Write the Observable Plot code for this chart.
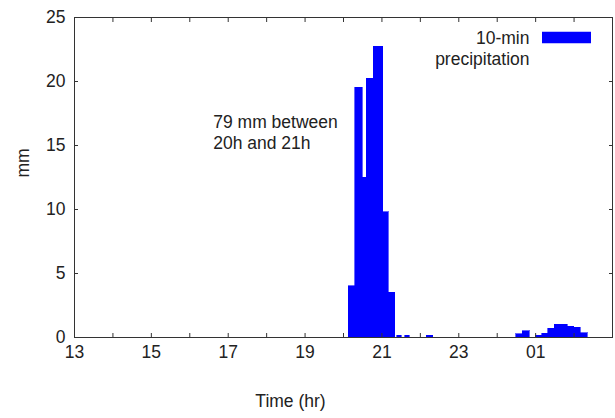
<!DOCTYPE html>
<html>
<head>
<meta charset="utf-8">
<script src="https://cdn.jsdelivr.net/npm/d3@7"></script>
<script src="https://cdn.jsdelivr.net/npm/@observablehq/plot@0.6"></script>
<style>
  html, body { margin: 0; padding: 0; background: #fff; }
</style>
</head>
<body>
<div id="chart"></div>
<script>
// 10-minute precipitation bins (time in hours; 25 = 01h next day)
const barStart = [20.138, 20.312, 20.502, 20.611, 20.788, 21.028, 21.179, 21.40, 21.61, 22.16,
                  24.50, 24.67, 25.00, 25.17, 25.33, 25.50, 25.67, 25.83, 26.00, 26.17];
const barEnd   = [20.312, 20.502, 20.611, 20.788, 21.028, 21.179, 21.353, 21.51, 21.72, 22.33,
                  24.67, 24.85, 25.17, 25.33, 25.50, 25.67, 25.83, 26.00, 26.17, 26.36];
const precip   = [4.0, 19.5, 12.5, 20.2, 22.7, 9.8, 3.5, 0.15, 0.15, 0.15,
                  0.25, 0.5, 0.15, 0.3, 0.7, 1.0, 1.0, 0.85, 0.75, 0.35];

const hourTicks  = [13, 14, 15, 16, 17, 18, 19, 20, 21, 22, 23, 24, 25, 26, 27];
const hourLabels = [13, 15, 17, 19, 21, 23, 25];
const mmTicks    = [0, 5, 10, 15, 20, 25];

const xDomain = [13, 27];
const yDomain = [0, 25];

const annotation = "79 mm between\n20h and 21h";
const annotX = 16.61, annotY = 17.6;
const legendText = "10-min\nprecipitation";
const xTitle = "Time (hr)";
const yTitle = "mm";

const bars = barStart.map((s, i) => ({start: s, end: barEnd[i], value: precip[i]}));
const fmtHour = h => String(h % 24).padStart(2, "0");

const BLUE = "#0000ff";
const INK = "#333";

const swatch = {
  draw(ctx) { ctx.rect(-24.5, -5.8, 49, 11.6); }
};

const chart = Plot.plot({
  width: 615,
  height: 418,
  marginLeft: 74,
  marginRight: 3,
  marginTop: 17,
  marginBottom: 81,
  x: {domain: xDomain, label: null},
  y: {domain: yDomain, label: null},
  style: {
    fontFamily: "'Liberation Sans', Arial, sans-serif",
    fontSize: "17.5px",
    color: "#222",
    background: "#fff",
    overflow: "visible"
  },
  marks: [
    Plot.rectY(bars, {x1: "start", x2: "end", y: "value", fill: BLUE, stroke: BLUE, strokeWidth: 0.6, inset: 0, shapeRendering: "crispEdges"}),
    // tick marks (inward) on all four sides
    Plot.axisX({anchor: "bottom", ticks: hourTicks, tickSize: -4, tickFormat: () => "", label: null, stroke: INK}),
    Plot.axisX({anchor: "top", ticks: hourTicks, tickSize: -4, tickFormat: () => "", label: null, stroke: INK}),
    Plot.axisY({anchor: "left", ticks: mmTicks, tickSize: -4, tickFormat: () => "", label: null, stroke: INK}),
    Plot.axisY({anchor: "right", ticks: mmTicks, tickSize: -4, tickFormat: () => "", label: null, stroke: INK}),
    // labels
    Plot.axisX({anchor: "bottom", ticks: hourLabels, tickSize: 0, tickPadding: 8, tickFormat: fmtHour, label: null, fill: "#222"}),
    Plot.axisY({anchor: "left", ticks: mmTicks, tickSize: 0, tickPadding: 9, label: null, fill: "#222"}),
    Plot.frame({stroke: INK}),
    Plot.text([annotation], {x: annotX, y: annotY, textAnchor: "start", lineAnchor: "top", lineHeight: 1.24, fill: "#222"}),
    Plot.text([legendText], {frameAnchor: "top-right", dx: -83, dy: 12, textAnchor: "end", lineAnchor: "top", lineHeight: 1.2, fill: "#222"}),
    Plot.dot([0], {frameAnchor: "top-right", dx: -46, dy: 20, symbol: swatch, fill: BLUE, stroke: null}),
    Plot.text([xTitle], {frameAnchor: "bottom", dx: -53, dy: 64, lineAnchor: "middle", fill: "#222"}),
    Plot.text([yTitle], {frameAnchor: "left", dx: -51, rotate: -90, fill: "#222"})
  ]
});
document.getElementById("chart").append(chart);
</script>
</body>
</html>
